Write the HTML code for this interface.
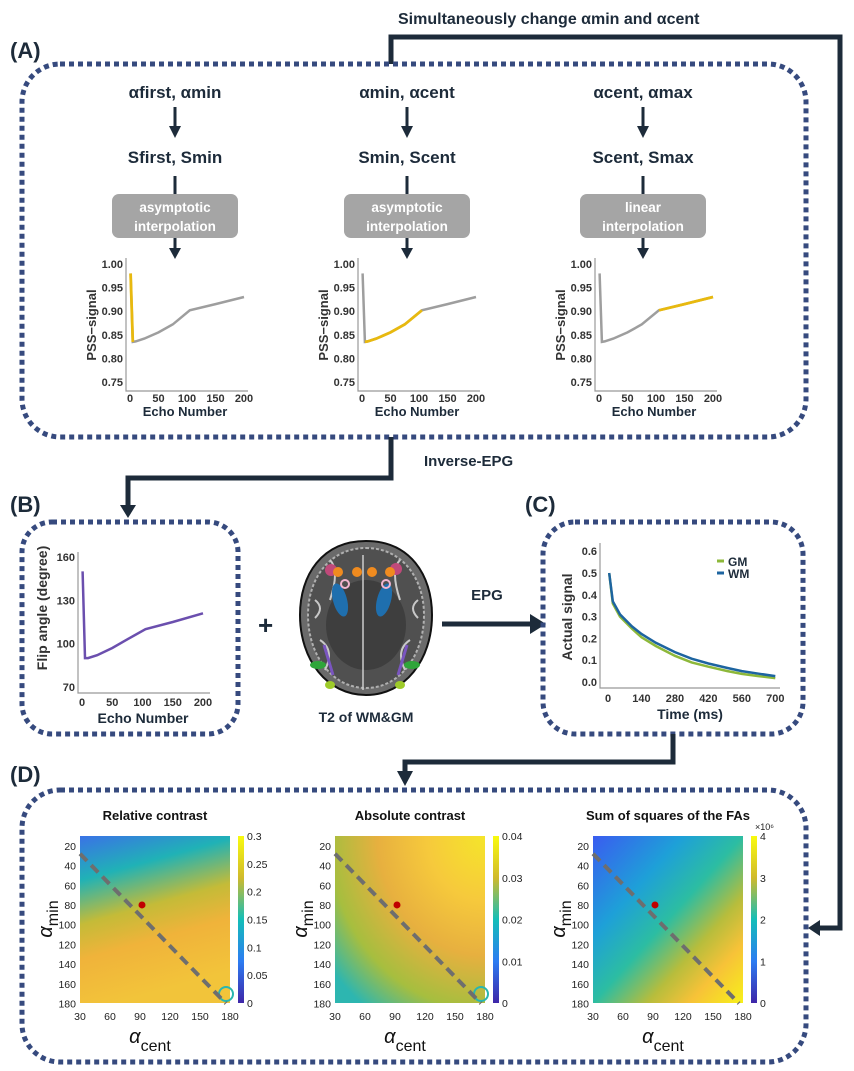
<!DOCTYPE html>
<html><head><meta charset="utf-8"><style>
body{margin:0;background:#fff}
svg{display:block}
text{font-family:"Liberation Sans",sans-serif}
.t{font-weight:bold;fill:#1d2b3a}
.ax{stroke:#999;stroke-width:1.2;fill:none}
.tk{font-size:11px;fill:#333;font-weight:bold}
.box{fill:none;stroke:#364a7e;stroke-width:5;stroke-dasharray:5 4}
.con{fill:none;stroke:#1d2b3a;stroke-width:5}
</style></head><body>
<svg id="fig" width="854" height="1071" viewBox="0 0 854 1071">
<defs>
<linearGradient id="g1" x1="0" y1="0" x2="0.25" y2="1">
<stop offset="0" stop-color="#3a72e6"/><stop offset="0.25" stop-color="#20b2b6"/><stop offset="0.5" stop-color="#c4bb38"/><stop offset="0.7" stop-color="#f0b33a"/><stop offset="1" stop-color="#f2c43a"/></linearGradient>
<radialGradient id="g2" cx="1" cy="0" r="1.3">
<stop offset="0" stop-color="#f5e52a"/><stop offset="0.3" stop-color="#f6c93c"/><stop offset="0.55" stop-color="#e7b03f"/><stop offset="0.8" stop-color="#a6be3f"/><stop offset="1" stop-color="#2db6b0"/></radialGradient>
<linearGradient id="g3" x1="0" y1="0" x2="1" y2="1">
<stop offset="0" stop-color="#3a5cf0"/><stop offset="0.3" stop-color="#1ea0d8"/><stop offset="0.5" stop-color="#2cbda2"/><stop offset="0.68" stop-color="#b7bd3c"/><stop offset="0.82" stop-color="#f7c238"/><stop offset="1" stop-color="#f7f01a"/></linearGradient>
<linearGradient id="cb" x1="0" y1="1" x2="0" y2="0">
<stop offset="0" stop-color="#3e26a8"/><stop offset="0.25" stop-color="#2c7cf2"/><stop offset="0.5" stop-color="#13beb8"/><stop offset="0.75" stop-color="#d0ba2c"/><stop offset="1" stop-color="#f9fb0e"/></linearGradient>
</defs>

<text class="t" x="398" y="24" font-size="16">Simultaneously change αmin and αcent</text>
<polyline class="con" points="391,64 391,37 840,37 840,928 818,928"/>
<path d="M808,928 L820,920 L820,936 z" fill="#1d2b3a"/>

<text class="t" x="10" y="58" font-size="22">(A)</text>
<rect class="box" x="22" y="64" width="784" height="373" rx="38"/>
<g id="colsA"></g>

<polyline class="con" points="391,437 391,478 128,478 128,506"/>
<path d="M120,505 L136,505 L128,518 z" fill="#1d2b3a"/>
<text class="t" x="424" y="466" font-size="15">Inverse-EPG</text>

<text class="t" x="10" y="512" font-size="22">(B)</text>
<rect class="box" x="22" y="522" width="216" height="212" rx="30"/>
<g id="plotB"></g>

<text class="t" x="258" y="634" font-size="26">+</text>
<g>
<path d="M366,541 C410,541 432,575 432,615 C432,660 405,695 366,695 C327,695 300,660 300,615 C300,575 322,541 366,541 z" fill="#6a6a6a" stroke="#111" stroke-width="2"/>
<path d="M366,548 C402,548 424,578 424,615 C424,655 400,688 366,688 C332,688 308,655 308,615 C308,578 330,548 366,548 z" fill="#505050" stroke="#b0b0b0" stroke-width="2" stroke-dasharray="3 2"/>
<ellipse cx="366" cy="625" rx="40" ry="45" fill="#3e3e3e"/>
<path d="M363,555 L363,690" stroke="#ccc" stroke-width="1.5"/>
<path d="M330,600 q10,-30 0,-40 M400,600 q-10,-30 0,-40 M320,640 q15,10 5,30 M410,640 q-15,10 -5,30 M315,600 q10,8 0,18 M418,600 q-10,8 0,18" stroke="#c8c8c8" stroke-width="2" fill="none"/>
<ellipse cx="340" cy="600" rx="7" ry="17" fill="#1f6fae" transform="rotate(-15 340 600)"/>
<ellipse cx="384" cy="600" rx="7" ry="17" fill="#1f6fae" transform="rotate(15 384 600)"/>
<circle cx="331" cy="570" r="6" fill="#c0497a"/><circle cx="338" cy="572" r="5" fill="#f08b1f"/>
<circle cx="396" cy="569" r="6" fill="#c0497a"/><circle cx="390" cy="572" r="5" fill="#f08b1f"/>
<circle cx="357" cy="572" r="5" fill="#f08b1f"/><circle cx="372" cy="572" r="5" fill="#f08b1f"/>
<circle cx="345" cy="584" r="4" fill="none" stroke="#f2b5d0" stroke-width="2"/><circle cx="386" cy="584" r="4" fill="none" stroke="#f2b5d0" stroke-width="2"/>
<path d="M324,645 L333,675 M407,645 L398,675" stroke="#7a55c0" stroke-width="3"/>
<ellipse cx="318" cy="665" rx="8" ry="4" fill="#2fa53a"/><ellipse cx="412" cy="665" rx="8" ry="4" fill="#2fa53a"/>
<ellipse cx="330" cy="685" rx="5" ry="4" fill="#9ecb2a"/><ellipse cx="400" cy="685" rx="5" ry="4" fill="#9ecb2a"/>
</g>
<text class="t" x="366" y="722" font-size="14" text-anchor="middle">T2 of WM&amp;GM</text>

<line class="con" x1="442" y1="624" x2="532" y2="624"/>
<path d="M546,624 L530,614 L530,634 z" fill="#1d2b3a"/>
<text class="t" x="487" y="600" font-size="15" text-anchor="middle">EPG</text>

<text class="t" x="525" y="512" font-size="22">(C)</text>
<rect class="box" x="543" y="522" width="260" height="212" rx="32"/>
<g id="plotC"></g>

<polyline class="con" points="673,734 673,762 405,762 405,772"/>
<path d="M397,771 L413,771 L405,786 z" fill="#1d2b3a"/>

<text class="t" x="10" y="782" font-size="22">(D)</text>
<rect class="box" x="22" y="790" width="784" height="272" rx="38"/>
<g id="maps"></g>
</svg>
<script>
const NS="http://www.w3.org/2000/svg";
function mk(tag,attrs,parent,txt){const e=document.createElementNS(NS,tag);for(const k in attrs)e.setAttribute(k,attrs[k]);if(txt!==undefined)e.textContent=txt;parent.appendChild(e);return e;}

// ---- Panel A data ----
const echoNumbers=[1,5,10,25,50,75,105,150,200];
const pssSignal=[0.98,0.835,0.836,0.842,0.855,0.872,0.902,0.915,0.93];
const pssTicks=[1.00,0.95,0.90,0.85,0.80,0.75];
const echoTicks=[0,50,100,150,200];
const colAlpha=["αfirst, αmin","αmin, αcent","αcent, αmax"];
const colS=["Sfirst, Smin","Smin, Scent","Scent, Smax"];
const colMethod=[["asymptotic","interpolation"],["asymptotic","interpolation"],["linear","interpolation"]];
const highlightRange=[[1,5],[5,105],[105,200]];
// ---- Panel B data ----
const flipAngles=[150,90,90,92,97,103,110,115,121];
const flipTicks=[160,130,100,70];
// ---- Panel C data ----
const timeMs=[5,20,50,100,140,200,280,350,420,500,560,630,700];
const gmSignal=[0.5,0.36,0.3,0.245,0.205,0.165,0.12,0.09,0.07,0.05,0.037,0.027,0.018];
const wmSignal=[0.5,0.37,0.31,0.255,0.22,0.18,0.137,0.107,0.085,0.064,0.05,0.038,0.027];
const signalTicks=[0.0,0.1,0.2,0.3,0.4,0.5,0.6];
const timeTicks=[0,140,280,420,560,700];
// ---- Panel D data ----
const mapTitles=["Relative contrast","Absolute contrast","Sum of squares of the FAs"];
const cbarTicks=[["0","0.05","0.1","0.15","0.2","0.25","0.3"],["0","0.01","0.02","0.03","0.04"],["0","1","2","3","4"]];
const minTicks=[20,40,60,80,100,120,140,160,180];
const centTicks=[30,60,90,120,150,180];
const optPoint=[92,80];
const lineStart=[30,28], lineEnd=[176,180];

function path(xs,ys,sx,sy){return xs.map((v,i)=>(i?"L":"M")+sx(v).toFixed(1)+","+sy(ys[i]).toFixed(1)).join(" ");}

// Panel A
const colsA=document.getElementById("colsA");
const cx=[175,407,643], axX=[126,358,595];
for(let c=0;c<3;c++){
  const g=mk("g",{},colsA);
  
  
  mk("text",{x:cx[c],y:98,"text-anchor":"middle","font-size":17,class:"t"},g,colAlpha[c]);
  mk("line",{x1:cx[c],y1:107,x2:cx[c],y2:128,class:"con",style:"stroke-width:3"},g);
  mk("path",{d:`M${cx[c]-6},126 L${cx[c]+6},126 L${cx[c]},138 z`,fill:"#1d2b3a"},g);
  mk("text",{x:cx[c],y:163,"text-anchor":"middle","font-size":17,class:"t"},g,colS[c]);
  mk("line",{x1:cx[c],y1:176,x2:cx[c],y2:196,class:"con",style:"stroke-width:3"},g);
  const b=mk("rect",{x:cx[c]-63,y:194,width:126,height:44,rx:7,fill:"#a5a5a5"},g);
  
  
  mk("text",{x:cx[c],y:212,"text-anchor":"middle","font-size":13.5,fill:"#fff","font-weight":"bold"},g,colMethod[c][0]);
  mk("text",{x:cx[c],y:231,"text-anchor":"middle","font-size":13.5,fill:"#fff","font-weight":"bold"},g,colMethod[c][1]);
  mk("line",{x1:cx[c],y1:238,x2:cx[c],y2:250,class:"con",style:"stroke-width:3"},g);
  mk("path",{d:`M${cx[c]-6},248 L${cx[c]+6},248 L${cx[c]},259 z`,fill:"#1d2b3a"},g);
  const x0=axX[c];
  const sx=v=>x0+4+v*0.57, sy=v=>264+(1-v)*472;
  mk("path",{d:`M${x0},258 L${x0},391 L${x0+122},391`,class:"ax"},g);
  pssTicks.forEach(t=>mk("text",{x:x0-3,y:sy(t)+4,"text-anchor":"end",class:"tk","font-size":10.5},g,t.toFixed(2)));
  echoTicks.forEach(t=>mk("text",{x:sx(t),y:402,"text-anchor":"middle",class:"tk","font-size":10.5},g,t));
  mk("text",{x:x0+59,y:416,"text-anchor":"middle","font-size":13,class:"t"},g,"Echo Number");
  mk("text",{x:0,y:0,transform:`translate(${x0-30},325) rotate(-90)`,"text-anchor":"middle","font-size":13,class:"t",style:"fill:#333"},g,"PSS−signal");
  const p=mk("path",{d:path(echoNumbers,pssSignal,sx,sy),fill:"none",stroke:"#9e9e9e","stroke-width":2.5},g);
  
  
  const [lo,hi]=highlightRange[c];
  const hx=[],hy=[];echoNumbers.forEach((v,i)=>{if(v>=lo&&v<=hi){hx.push(v);hy.push(pssSignal[i]);}});
  const h=mk("path",{d:path(hx,hy,sx,sy),fill:"none",stroke:"#e8b90f","stroke-width":2.8},g);
  
  
}

// Panel B
(function(){
  const g=document.getElementById("plotB");
  const sx=v=>82+v*0.605, sy=v=>557+(160-v)*1.444;
  mk("path",{d:"M78,552 L78,693 L210,693",class:"ax"},g);
  flipTicks.forEach(t=>mk("text",{x:75,y:sy(t)+4,"text-anchor":"end",class:"tk","font-size":11.5},g,t));
  echoTicks.forEach(t=>mk("text",{x:sx(t),y:706,"text-anchor":"middle",class:"tk","font-size":11.5},g,t));
  mk("text",{x:143,y:723,"text-anchor":"middle","font-size":14,class:"t"},g,"Echo Number");
  mk("text",{x:0,y:0,transform:"translate(47,608) rotate(-90)","text-anchor":"middle","font-size":14,class:"t",style:"fill:#333"},g,"Flip angle (degree)");
  const p=mk("path",{d:path(echoNumbers,flipAngles,sx,sy),fill:"none",stroke:"#6b4fae","stroke-width":2.5},g);
  
  
})();

// Panel C
(function(){
  const g=document.getElementById("plotC");
  const sx=v=>608+v*0.239, sy=v=>682-v*218;
  mk("path",{d:"M600,543 L600,688 L780,688",class:"ax"},g);
  signalTicks.forEach(t=>mk("text",{x:597,y:sy(t)+4,"text-anchor":"end",class:"tk","font-size":11.5},g,t.toFixed(1)));
  timeTicks.forEach(t=>mk("text",{x:sx(t),y:702,"text-anchor":"middle",class:"tk","font-size":11.5},g,t));
  mk("text",{x:690,y:719,"text-anchor":"middle","font-size":14,class:"t"},g,"Time (ms)");
  mk("text",{x:0,y:0,transform:"translate(572,617) rotate(-90)","text-anchor":"middle","font-size":14,class:"t",style:"fill:#333"},g,"Actual signal");
  const gm=mk("path",{d:path(timeMs,gmSignal,sx,sy),fill:"none",stroke:"#8db83a","stroke-width":2.5},g);
  
  
  const wm=mk("path",{d:path(timeMs,wmSignal,sx,sy),fill:"none",stroke:"#1d64a0","stroke-width":2.5},g);
  
  
  const l1=mk("g",{},g);
  mk("line",{x1:717,y1:561,x2:724,y2:561,stroke:"#8db83a","stroke-width":3},l1);
  mk("text",{x:728,y:566,"font-size":12,class:"t"},l1,"GM");
  const l2=mk("g",{},g);
  mk("line",{x1:717,y1:573,x2:724,y2:573,stroke:"#1d64a0","stroke-width":3},l2);
  mk("text",{x:728,y:578,"font-size":12,class:"t"},l2,"WM");
})();

// Panel D
(function(){
  const root=document.getElementById("maps");
  const mx=[80,335,593], grads=["g1","g2","g3"];
  for(let k=0;k<3;k++){
    const g=mk("g",{},root);
    
    
    const x0=mx[k];
    const sx=v=>x0+(v-30)*1.0, sy=v=>836+(v-10)*0.985;
    mk("text",{x:x0+75,y:820,"text-anchor":"middle","font-size":13,class:"t",style:"fill:#111"},g,mapTitles[k]);
    mk("rect",{x:x0,y:836,width:150,height:167,fill:`url(#${grads[k]})`},g);
    if(k<2){mk("circle",{cx:x0+146,cy:994,r:7,fill:"none",stroke:"#29b6b0","stroke-width":2},g);}
    minTicks.forEach(t=>mk("text",{x:x0-4,y:sy(t)+4,"text-anchor":"end","font-size":10.5,fill:"#222"},g,t));
    centTicks.forEach(t=>mk("text",{x:sx(t),y:1020,"text-anchor":"middle","font-size":10.5,fill:"#222"},g,t));
    const cbx=x0+158;
    mk("rect",{x:cbx,y:836,width:6,height:167,fill:"url(#cb)"},g);
    const tk=cbarTicks[k];
    tk.forEach((t,i)=>mk("text",{x:cbx+9,y:1003-i*167/(tk.length-1)+4,"font-size":10.5,fill:"#222"},g,t));
    if(k==2)mk("text",{x:cbx+4,y:830,"font-size":9,fill:"#222"},g,"×10⁶");
    const dl=mk("line",{x1:sx(lineStart[0]),y1:sy(lineStart[1]),x2:sx(lineEnd[0]),y2:sy(lineEnd[1]),stroke:"#6e6e6e","stroke-width":4,"stroke-dasharray":"10 6"},g);
    
    
    const dot=mk("circle",{cx:sx(optPoint[0]),cy:sy(optPoint[1]),r:3.5,fill:"#c00000"},g);
    
    
    const yl=mk("text",{x:0,y:0,transform:`translate(${x0-28},919) rotate(-90)`,"text-anchor":"middle","font-size":20,fill:"#111","font-family":"Liberation Serif"},g);
    mk("tspan",{"font-style":"italic"},yl,"α");
    mk("tspan",{dy:6,"font-size":16,"font-family":"Liberation Sans"},yl,"min");
    const xl=mk("text",{x:x0+70,y:1043,"text-anchor":"middle","font-size":20,fill:"#111","font-family":"Liberation Serif"},g);
    mk("tspan",{"font-style":"italic"},xl,"α");
    mk("tspan",{dy:8,"font-size":16,"font-family":"Liberation Sans"},xl,"cent");
  }
})();
</script>
</body></html>
